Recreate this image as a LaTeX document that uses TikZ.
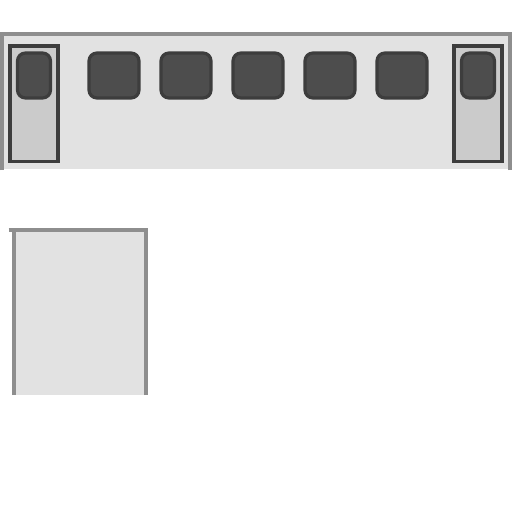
\documentclass[tikz,border=0pt]{standalone}
\usepackage{xcolor}
\definecolor{panelgrey}{HTML}{E2E2E2}
\definecolor{edgegrey}{HTML}{8E8E8E}
\definecolor{doorgrey}{HTML}{CBCBCB}
\definecolor{keygrey}{HTML}{4D4D4D}
\definecolor{keyedge}{HTML}{3D3D3D}
\tikzset{
  panelfill/.style={fill=panelgrey,draw=none},
  paneledge/.style={draw=edgegrey,line width=3},
  doorbox/.style={fill=doorgrey,draw=keyedge,line width=2.8},
  keybox/.style={fill=keygrey,draw=keyedge,line width=2.4,rounded corners=6}
}
\begin{document}
\begin{tikzpicture}[x=0.75pt,y=0.75pt,yscale=-1,xscale=1]
\useasboundingbox (0,0) rectangle (512,512);
\fill [white] (0,0) rectangle (512,512);

%Shape: top panel
\path [panelfill] (0,34) rectangle (512,169);
\draw [paneledge] (2,170) -- (2,34) ;
\draw [paneledge] (510,170) -- (510,34) ;
\draw [paneledge] (0,34) -- (512,34) ;

%Shape: left door
\draw [doorbox] (10,46) rectangle (58,161.5) ;
\draw [keybox] (17.5,53) rectangle (50.5,98) ;
%Shape: right door
\draw [doorbox] (454,46) rectangle (502,161.5) ;
\draw [keybox] (461.5,53) rectangle (494.5,98) ;

%Shape: row of keys
\foreach \x in {89,161,233,305,377}
  \draw [keybox] (\x,53) rectangle (\x+50,98) ;

%Shape: lower panel
\path [panelfill] (14,230) rectangle (146,395);
\draw [paneledge] (14,395) -- (14,230) ;
\draw [paneledge] (146,395) -- (146,230) ;
\draw [paneledge] (8.5,230) -- (147.5,230) ;

\end{tikzpicture}
\end{document}
